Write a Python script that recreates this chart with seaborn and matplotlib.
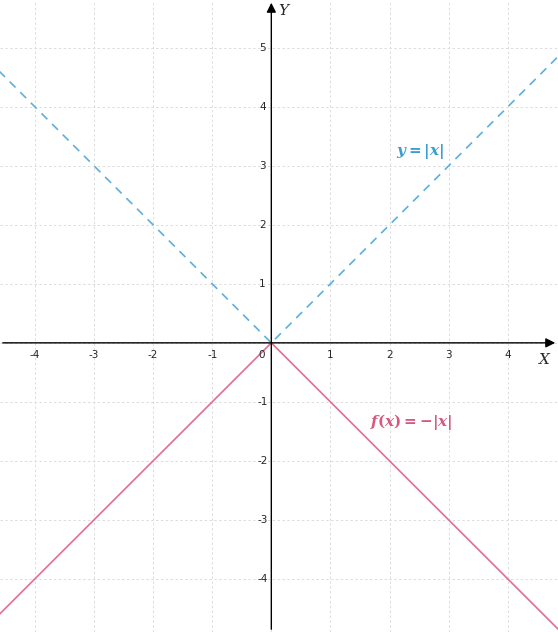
import numpy as np
import pandas as pd
import matplotlib
matplotlib.use("Agg")
import matplotlib.pyplot as plt
import seaborn as sns

# dane
x_vals = [-5, 0, 5]
y_abs = [5, 0, 5]
y_neg = [-5, 0, -5]
x_ticks = [-4, -3, -2, -1, 1, 2, 3, 4]
y_ticks = [-4, -3, -2, -1, 1, 2, 3, 4, 5]

sns.set_style("white")
plt.rcParams['mathtext.fontset'] = 'dejavuserif'

fig = plt.figure(figsize=(5.58, 6.32), dpi=100)
ax = fig.add_axes([0, 0, 1, 1])

df = pd.DataFrame({'x': x_vals, 'abs': y_abs, 'neg': y_neg})
sns.lineplot(data=df, x='x', y='abs', ax=ax, color='#5cb0dc', lw=1.2, linestyle=(0, (5, 4)))
sns.lineplot(data=df, x='x', y='neg', ax=ax, color='#e0708f', lw=1.2)

ax.set_xlim(-4.59, 4.85)
ax.set_ylim(-4.90, 5.81)
ax.set_xticks(range(-4, 5))
ax.set_yticks(range(-4, 6))
ax.grid(True, color='#dcdcdc', linestyle=(0, (2.5, 2.5)), lw=0.7)
ax.tick_params(length=0, labelbottom=False, labelleft=False)
for s in ax.spines.values():
    s.set_visible(False)
ax.set_xlabel('')
ax.set_ylabel('')

# osie ze strzalkami
ax.annotate('', xy=(4.85, 0), xytext=(-4.59, 0),
            arrowprops=dict(arrowstyle='-|>', color='black', lw=1, mutation_scale=14))
ax.annotate('', xy=(0, 5.81), xytext=(0, -4.90),
            arrowprops=dict(arrowstyle='-|>', color='black', lw=1, mutation_scale=14))

for t in x_ticks:
    ax.text(t, -0.2, str(t), ha='center', va='center', fontsize=7.5)
for t in y_ticks:
    ax.text(-0.15, t, str(t), ha='center', va='center', fontsize=7.5)
ax.text(-0.17, -0.2, '0', ha='center', va='center', fontsize=7.5)

ax.text(4.63, -0.29, '$X$', ha='center', va='center', fontsize=11)
ax.text(0.23, 5.64, '$Y$', ha='center', va='center', fontsize=11)

ax.text(2.51, 3.24, r'$\boldsymbol{y = |x|}$', color='#3a9fcf', ha='center', va='center', fontsize=11)
ax.text(2.36, -1.34, r'$\boldsymbol{f(x) = -|x|}$', color='#d65a80', ha='center', va='center', fontsize=11)

plt.savefig('out.png', dpi=100)
